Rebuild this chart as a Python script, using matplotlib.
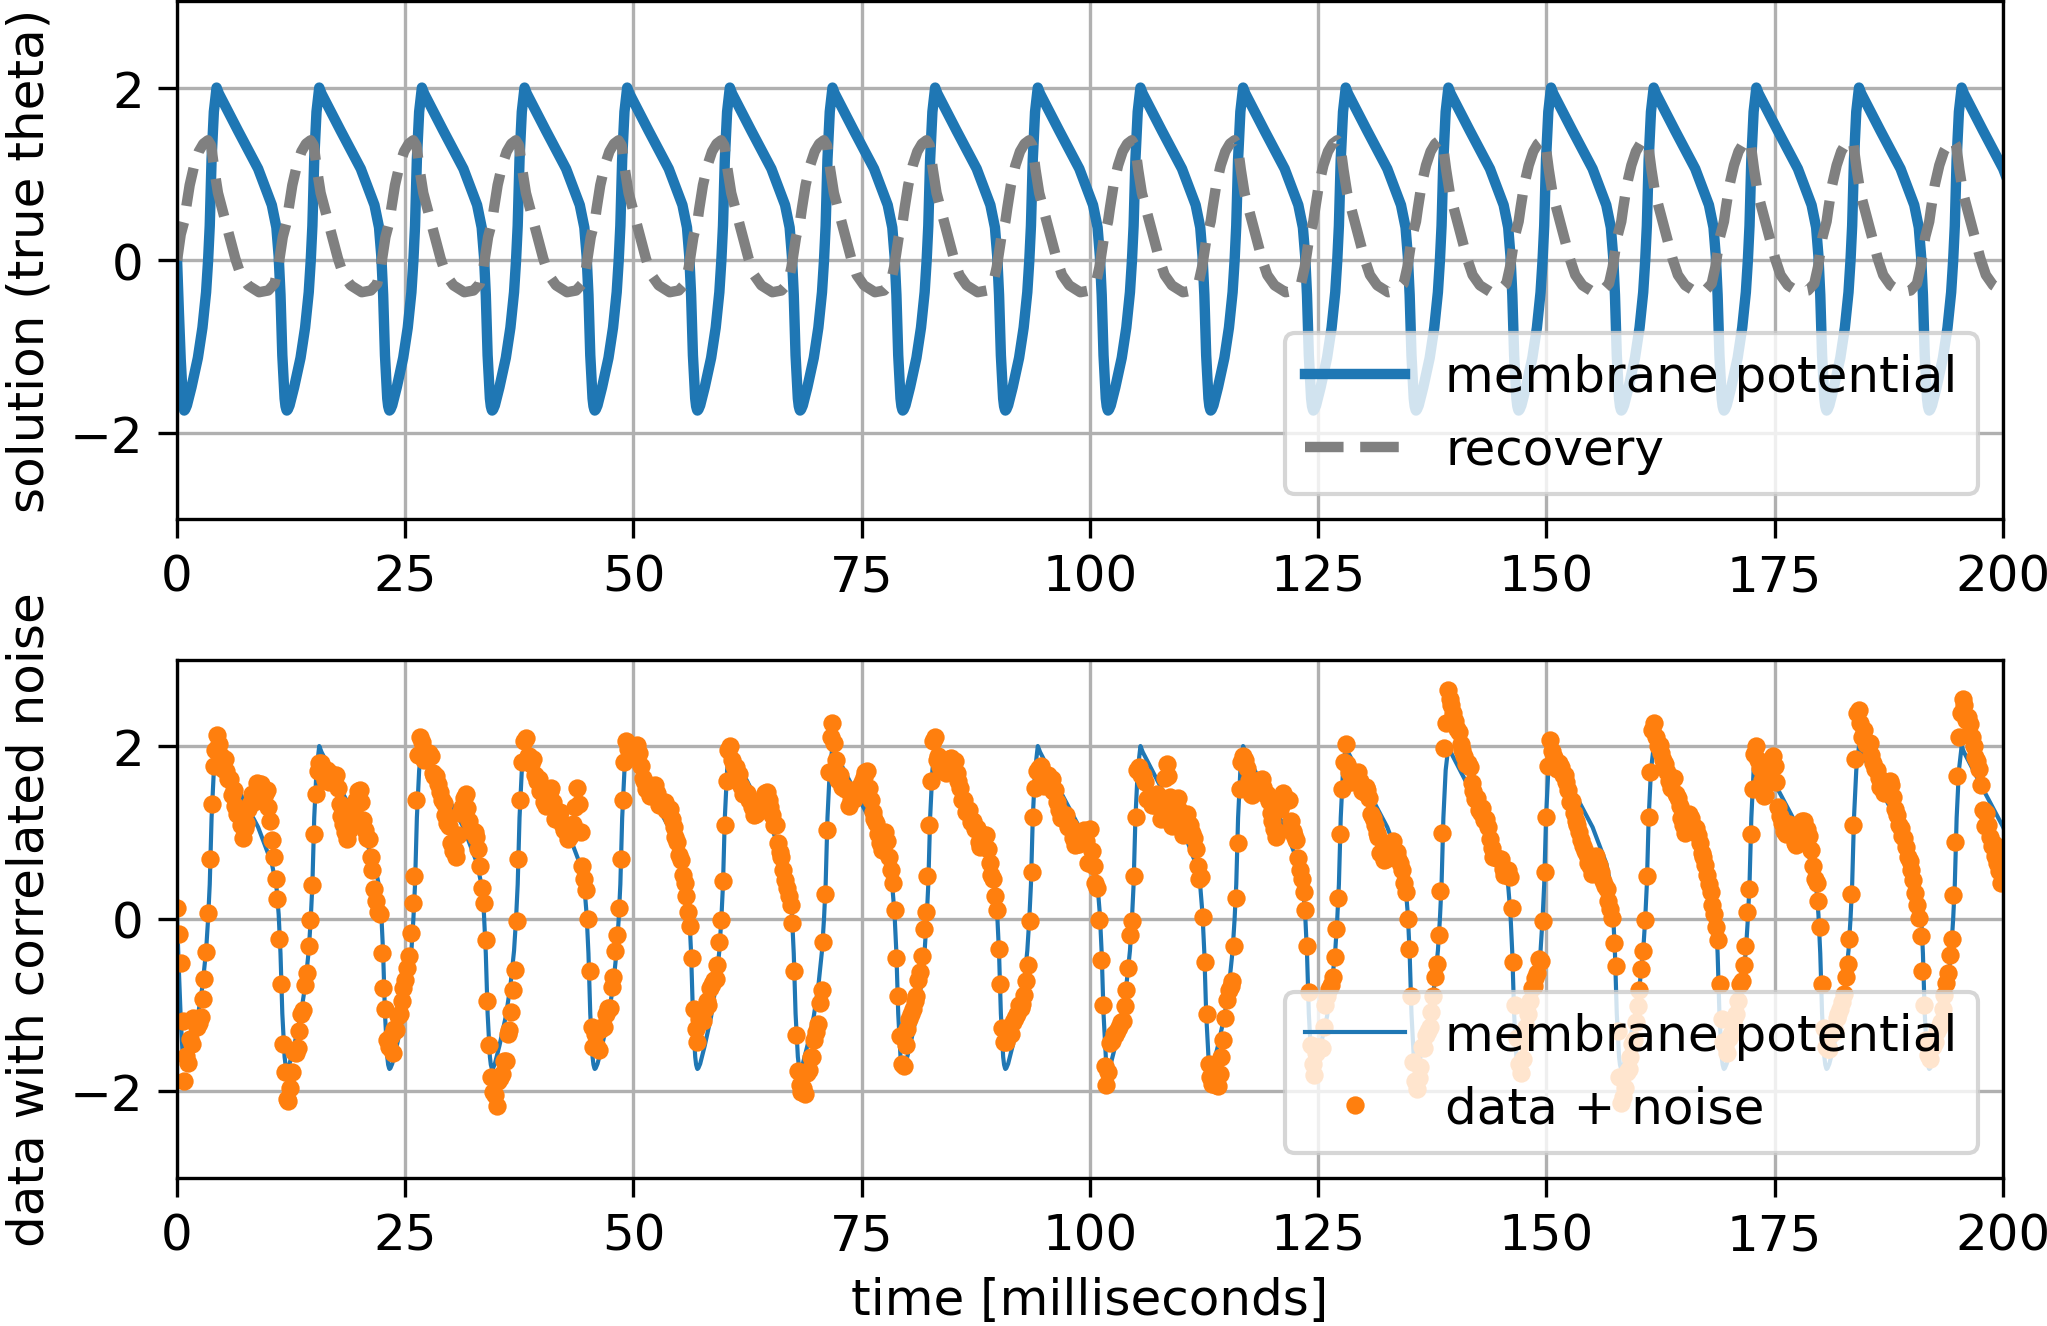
import numpy as np
import matplotlib
matplotlib.use("Agg")
import matplotlib.pyplot as plt

plt.rcParams['font.size'] = 12
plt.rcParams['xtick.major.size'] = 4.5
plt.rcParams['ytick.major.size'] = 4.5

# one period of the solution, phase [ms] counted from the trough of v
v_phase = [0.0, 0.1, 0.3, 0.8, 1.5, 2.0, 2.4, 2.62, 2.8, 3.0, 3.25, 3.55, 3.8,
           5.9, 8.1, 9.6, 10.1, 10.35, 10.55, 10.75, 11.0, 11.1, 11.2, 11.25]
v_level = [-1.74, -1.73, -1.68, -1.47, -1.13, -0.78, -0.37, 0.0, 0.4, 1.17, 1.72, 2.0, 1.93,
           1.5, 1.06, 0.64, 0.38, 0.05, -0.4, -1.1, -1.6, -1.69, -1.73, -1.74]
w_phase = [0.0, 0.2, 0.6, 1.1, 1.6, 2.1, 2.6, 2.95, 3.3, 3.7, 4.2, 4.6, 5.1, 5.6,
           6.2, 7.0, 8.2, 9.2, 9.9, 10.3, 10.8, 11.25]
w_level = [0.45, 0.6, 0.87, 1.1, 1.26, 1.35, 1.39, 1.33, 1.05, 0.78, 0.58, 0.42, 0.22, 0.02,
           -0.17, -0.29, -0.37, -0.35, -0.27, -0.08, 0.27, 0.45]

# trough times of the spikes [ms]
cycle_start = [0.78, 12.025, 23.27, 34.515, 45.76, 57.005, 68.25, 79.495, 90.74,
               101.985, 113.23, 124.475, 135.72, 146.965, 158.21, 169.455, 180.7, 191.945]

# start of the run, before the first trough
v_init_t = [0.0, 0.2, 0.4, 0.6]
v_init = [0.0, -0.6, -1.15, -1.55]
w_init_t = [0.0, 0.4]
w_init = [0.0, 0.3]

# noisy observations, one sample every 0.2 ms, block k starts at data_first[k]
data_first = [0.0, 0.8, 12.2, 23.4, 34.6, 45.8, 57.2, 68.4, 79.6, 90.8,
              102.0, 113.4, 124.6, 135.8, 147.0, 158.4, 169.6, 180.8, 192.0]
data_blocks = [
    [0.13, -0.18, -0.51, -1.19],
    [-1.88, -1.59, -1.67, -1.39, -1.45, -1.15, -1.20, -1.25, -1.21, -1.14, -0.93, -0.70, -0.39, 0.07,
     0.69, 1.33, 1.77, 1.96, 2.13, 2.02, 1.88, 1.74, 1.85, 1.71, 1.62, 1.62, 1.43, 1.49, 1.30, 1.21,
     1.22, 1.08, 0.94, 1.05, 1.11, 1.27, 1.33, 1.44, 1.35, 1.46, 1.57, 1.47, 1.56, 1.41, 1.45, 1.49,
     1.29, 1.13, 0.91, 0.71, 0.46, 0.23, -0.24, -0.75, -1.45, -1.78, -2.09],
    [-2.11, -1.96, -1.78, -1.54, -1.55, -1.50, -1.30, -1.10, -1.06, -0.77, -0.63, -0.32, -0.02, 0.39,
     0.98, 1.45, 1.71, 1.80, 1.80, 1.70, 1.61, 1.72, 1.58, 1.69, 1.60, 1.65, 1.66, 1.52, 1.33, 1.19,
     1.10, 1.01, 0.92, 1.03, 1.14, 1.25, 1.26, 1.37, 1.48, 1.49, 1.35, 1.14, 1.03, 0.93, 0.92, 0.72,
     0.56, 0.35, 0.20, 0.08, 0.06, -0.40, -0.80, -1.05, -1.41, -1.48],
    [-1.36, -1.56, -1.28, -1.29, -1.13, -1.10, -0.95, -0.80, -0.71, -0.57, -0.43, -0.17, 0.18, 0.49,
     1.38, 1.90, 2.11, 2.05, 1.84, 1.85, 1.86, 1.92, 1.88, 1.69, 1.65, 1.65, 1.56, 1.47, 1.38, 1.34,
     1.20, 1.11, 1.07, 0.88, 0.79, 0.80, 0.71, 0.97, 1.23, 1.29, 1.40, 1.44, 1.28, 1.13, 1.02, 1.02,
     1.01, 0.95, 0.81, 0.61, 0.36, 0.18, -0.25, -0.95, -1.46, -1.83],
    [-2.01, -2.04, -2.17, -1.88, -1.85, -1.80, -1.65, -1.65, -1.33, -1.29, -1.08, -0.82, -0.59, -0.03,
     0.69, 1.38, 1.82, 2.06, 2.09, 1.88, 1.88, 1.79, 1.85, 1.66, 1.60, 1.62, 1.48, 1.49, 1.35, 1.31,
     1.35, 1.48, 1.51, 1.35, 1.16, 1.17, 1.18, 1.24, 1.10, 1.03, 1.07, 0.92, 0.96, 1.06, 1.10, 1.29,
     1.52, 1.33, 1.01, 0.61, 0.46, 0.33, 0.00, -0.60, -1.25, -1.48],
    [-1.33, -1.49, -1.52, -1.28, -1.25, -1.25, -1.10, -1.03, -1.03, -0.79, -0.68, -0.37, -0.19, 0.12,
     0.69, 1.38, 1.82, 2.06, 1.97, 1.87, 1.88, 1.99, 2.00, 2.01, 1.92, 1.77, 1.63, 1.59, 1.50, 1.51,
     1.42, 1.43, 1.49, 1.55, 1.46, 1.32, 1.33, 1.34, 1.35, 1.26, 1.27, 1.27, 1.16, 1.06, 0.95, 0.89,
     0.74, 0.68, 0.51, 0.41, 0.26, 0.08, -0.08, -0.45, -1.05, -1.28, -1.43],
    [-1.16, -1.06, -1.18, -1.04, -0.95, -1.00, -0.80, -0.75, -0.71, -0.70, -0.53, -0.27, -0.02, 0.44,
     1.08, 1.60, 1.96, 2.00, 1.84, 1.77, 1.76, 1.67, 1.68, 1.54, 1.45, 1.45, 1.46, 1.37, 1.38, 1.29,
     1.20, 1.21, 1.27, 1.33, 1.34, 1.40, 1.46, 1.47, 1.38, 1.29, 1.20, 1.09, 1.08, 0.88, 0.77, 0.72,
     0.56, 0.45, 0.36, 0.26, 0.16, -0.05, -0.60, -1.35, -1.76, -1.93],
    [-2.01, -1.96, -2.03, -1.79, -1.75, -1.60, -1.60, -1.40, -1.31, -1.22, -0.98, -0.82, -0.27, 0.29,
     1.03, 1.70, 2.11, 2.27, 2.04, 1.84, 1.61, 1.67, 1.53, 1.54, 1.50, 1.50, 1.31, 1.37, 1.43, 1.39,
     1.45, 1.51, 1.52, 1.58, 1.64, 1.70, 1.71, 1.52, 1.38, 1.24, 1.15, 1.11, 0.98, 0.88, 0.80, 0.87,
     1.01, 0.90, 0.71, 0.56, 0.41, 0.10, -0.45, -0.90, -1.36, -1.68],
    [-1.71, -1.46, -1.28, -1.16, -1.10, -1.05, -0.95, -0.90, -0.71, -0.62, -0.43, -0.12, 0.08, 0.49,
     1.08, 1.60, 2.06, 2.10, 1.84, 1.88, 1.76, 1.82, 1.83, 1.69, 1.80, 1.85, 1.86, 1.77, 1.83, 1.69,
     1.60, 1.51, 1.37, 1.38, 1.24, 1.25, 1.26, 1.12, 1.13, 1.04, 1.05, 0.89, 0.83, 0.93, 0.97, 0.97,
     0.81, 0.65, 0.51, 0.46, 0.26, 0.10, -0.35, -0.75, -1.26, -1.43],
    [-1.43, -1.34, -1.32, -1.33, -1.20, -1.15, -1.10, -1.00, -1.03, -0.99, -0.88, -0.72, -0.54, -0.03,
     0.54, 1.18, 1.52, 1.71, 1.75, 1.77, 1.68, 1.54, 1.60, 1.66, 1.62, 1.62, 1.48, 1.49, 1.35, 1.26,
     1.17, 1.18, 1.19, 1.20, 1.06, 1.07, 1.03, 0.94, 0.85, 0.86, 0.87, 0.97, 1.01, 1.03, 0.90, 0.64,
     1.04, 0.78, 0.61, 0.41, 0.36, -0.02, -0.48, -1.00, -1.70, -1.93],
    [-1.78, -1.44, -1.42, -1.33, -1.35, -1.30, -1.25, -1.20, -1.18, -1.01, -0.83, -0.57, -0.19, -0.03,
     0.49, 1.18, 1.72, 1.76, 1.67, 1.67, 1.58, 1.39, 1.40, 1.41, 1.32, 1.32, 1.33, 1.44, 1.35, 1.16,
     1.27, 1.63, 1.79, 1.65, 1.41, 1.07, 1.18, 1.29, 1.40, 1.26, 1.07, 0.97, 1.06, 1.21, 1.10, 1.09,
     0.99, 0.93, 0.81, 0.61, 0.46, 0.48, 0.02, -0.50, -1.10, -1.68, -1.83],
    [-1.91, -1.81, -1.93, -1.94, -1.80, -1.60, -1.40, -1.15, -0.94, -0.82, -0.78, -0.72, -0.32, 0.24,
     0.88, 1.50, 1.81, 1.88, 1.84, 1.75, 1.61, 1.45, 1.43, 1.54, 1.60, 1.60, 1.61, 1.62, 1.53, 1.44,
     1.45, 1.36, 1.22, 1.13, 1.04, 0.95, 1.01, 1.27, 1.33, 1.46, 1.40, 1.39, 1.38, 1.13, 1.02, 0.97,
     0.91, 0.70, 0.56, 0.46, 0.31, 0.10, -0.32, -0.85, -1.46, -1.68],
    [-1.81, -1.56, -1.48, -1.49, -1.50, -1.25, -1.00, -0.90, -0.81, -0.77, -0.68, -0.44, -0.12, 0.24,
     0.98, 1.50, 1.81, 2.02, 1.79, 1.70, 1.58, 1.62, 1.68, 1.69, 1.70, 1.60, 1.48, 1.47, 1.53, 1.49,
     1.40, 1.21, 1.17, 1.08, 0.99, 0.95, 0.76, 0.77, 0.68, 0.69, 0.75, 0.84, 0.88, 0.90, 0.77, 0.77,
     0.69, 0.65, 0.56, 0.41, 0.31, 0.00, -0.35, -0.90, -1.66, -1.88],
    [-1.97, -1.84, -1.72, -1.48, -1.50, -1.35, -1.30, -1.25, -1.08, -0.89, -0.68, -0.52, -0.19, 0.32,
     0.99, 1.98, 2.27, 2.65, 2.54, 2.47, 2.38, 2.29, 2.20, 2.16, 2.02, 1.95, 1.88, 1.79, 1.80, 1.76,
     1.57, 1.48, 1.39, 1.40, 1.26, 1.22, 1.28, 1.14, 1.15, 1.06, 0.92, 0.82, 0.71, 0.71, 0.70, 0.69,
     0.69, 0.58, 0.51, 0.51, 0.56, 0.48, 0.12, -0.50, -1.00, -1.38],
    [-1.68, -1.79, -1.62, -1.43, -1.25, -1.10, -0.95, -0.80, -0.78, -0.69, -0.63, -0.47, -0.49, -0.03,
     0.54, 1.18, 1.77, 2.07, 1.94, 1.87, 1.83, 1.74, 1.80, 1.76, 1.67, 1.67, 1.58, 1.49, 1.35, 1.36,
     1.22, 1.13, 1.09, 1.00, 0.91, 0.84, 0.78, 0.74, 0.65, 0.61, 0.52, 0.67, 0.73, 0.66, 0.62, 0.54,
     0.44, 0.38, 0.34, 0.21, 0.11, 0.01, -0.28, -0.55, -1.30, -1.83, -2.13],
    [-2.06, -1.96, -1.78, -1.74, -1.60, -1.45, -1.40, -1.20, -1.01, -0.82, -0.58, -0.37, -0.02, 0.49,
     1.18, 1.70, 2.19, 2.27, 2.11, 2.00, 2.01, 1.92, 1.84, 1.79, 1.70, 1.60, 1.51, 1.62, 1.63, 1.44,
     1.40, 1.31, 1.17, 1.08, 0.99, 1.15, 1.21, 1.17, 1.08, 1.06, 1.05, 0.97, 0.88, 0.76, 0.72, 0.62,
     0.51, 0.40, 0.31, 0.16, 0.06, -0.10, -0.25, -0.75, -1.16, -1.43],
    [-1.46, -1.56, -1.38, -1.34, -1.20, -1.15, -1.10, -0.95, -0.76, -0.72, -0.53, -0.32, 0.08, 0.34,
     0.98, 1.50, 1.91, 2.00, 1.84, 1.75, 1.61, 1.42, 1.43, 1.59, 1.75, 1.85, 1.88, 1.77, 1.58, 1.29,
     1.19, 1.11, 1.02, 0.98, 1.04, 1.10, 1.07, 0.97, 0.88, 0.85, 0.95, 1.04, 1.13, 1.13, 1.02, 1.04,
     0.96, 0.80, 0.61, 0.46, 0.41, 0.20, -0.10, -0.75, -1.26, -1.48],
    [-1.51, -1.51, -1.33, -1.29, -1.30, -1.15, -1.10, -1.05, -0.96, -0.87, -0.68, -0.52, -0.24, 0.29,
     1.08, 1.85, 2.38, 2.42, 2.27, 2.10, 2.19, 2.02, 2.03, 2.03, 1.90, 1.80, 1.73, 1.72, 1.63, 1.53,
     1.55, 1.46, 1.52, 1.58, 1.59, 1.55, 1.41, 1.27, 1.20, 1.09, 1.05, 0.96, 0.93, 0.83, 0.72, 0.67,
     0.56, 0.45, 0.30, 0.16, 0.01, -0.20, -0.60, -1.00, -1.41, -1.58],
    [-1.63, -1.49, -1.47, -1.43, -1.30, -1.25, -1.20, -1.05, -0.88, -0.74, -0.63, -0.42, -0.24, 0.27,
     0.89, 1.65, 2.11, 2.38, 2.54, 2.47, 2.30, 2.34, 2.25, 2.11, 2.00, 1.87, 1.83, 1.73, 1.55, 1.26,
     1.07, 1.23, 1.09, 0.95, 0.84, 0.87, 0.73, 0.64, 0.55, 0.41],
]
sample_step = 0.2

x_ticks = [0, 25, 50, 75, 100, 125, 150, 175, 200]
y_ticks = [-2, 0, 2]


def curve(init_t, init_y, phase, level):
    t = list(init_t)
    y = list(init_y)
    for k, s in enumerate(cycle_start):
        n = len(phase) if k == len(cycle_start) - 1 else len(phase) - 1
        t += [s + p for p in phase[:n]]
        y += level[:n]
    return np.array(t), np.array(y)


tv, v = curve(v_init_t, v_init, v_phase, v_level)
tw, w = curve(w_init_t, w_init, w_phase, w_level)

td = np.concatenate([t0 + sample_step * np.arange(len(b)) for t0, b in zip(data_first, data_blocks)])
yd = np.concatenate([np.array(b) for b in data_blocks])

fig = plt.figure(figsize=(2047 / 300, 1327 / 300), dpi=300)
ax1 = fig.add_axes([0.0865, 0.6079, 0.8919, 0.3904])
ax2 = fig.add_axes([0.0865, 0.1117, 0.8919, 0.3904])

ax1.plot(tv, v, color='C0', lw=2.5, label='membrane potential')
ax1.plot(tw, w, color='gray', ls='--', lw=2.5, label='recovery')
ax1.set_ylabel('solution (true theta)')
ax1.legend(loc='lower right')

ax2.plot(tv, v, color='C0', lw=1.0, label='membrane potential')
ax2.plot(td, yd, 'o', color='C1', ms=4.4, mew=0, label='data + noise')
ax2.set_ylabel('data with correlated noise')
ax2.set_xlabel('time [milliseconds]')
ax2.legend(loc='lower right')

for ax in (ax1, ax2):
    ax.set_xlim(0, 200)
    ax.set_ylim(-3, 3)
    ax.set_xticks(x_ticks)
    ax.set_yticks(y_ticks)
    ax.grid(True)

fig.savefig('out.png', dpi=300)
